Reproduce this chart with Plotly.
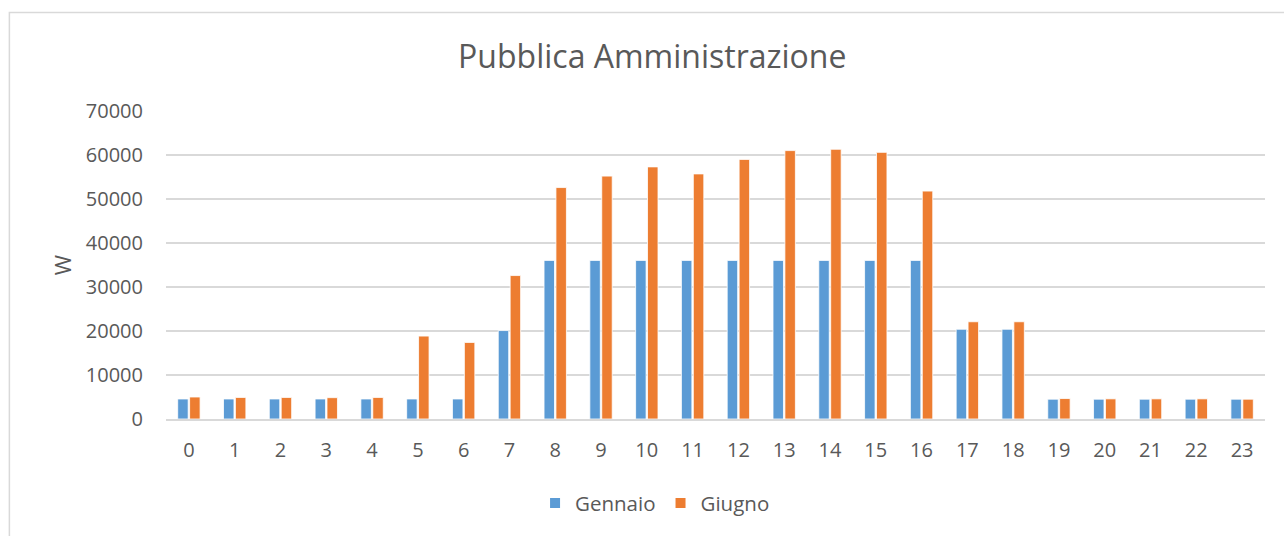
import plotly.graph_objects as go

## Dati
ore = [str(h) for h in range(24)]
gennaio = [4550, 4550, 4550, 4550, 4550, 4550, 4550, 20100, 36050, 36050, 36050, 36050,
           36050, 36050, 36050, 36050, 36050, 20400, 20400, 4500, 4500, 4500, 4500, 4500]
giugno = [5000, 4900, 4900, 4850, 4900, 18850, 17400, 32600, 52600, 55200, 57300, 55700,
          59000, 61000, 61300, 60600, 51800, 22100, 22100, 4650, 4580, 4580, 4580, 4500]

## Grafico
fig = go.Figure()
fig.add_trace(go.Bar(x = ore, y = gennaio, name = "Gennaio",
                     marker = dict(color = "#5B9BD5", line = dict(color = "#ffffff", width = 0.8))))
fig.add_trace(go.Bar(x = ore, y = giugno, name = "Giugno",
                     marker = dict(color = "#ED7D31", line = dict(color = "#ffffff", width = 0.8))))

fig.update_layout(
    width = 1284, height = 536,
    margin = dict(l = 166, r = 19, t = 111, b = 117),
    paper_bgcolor = "white", plot_bgcolor = "white",
    font = dict(family = "Open Sans", size = 20, color = "#595959"),
    title = dict(text = "Pubblica Amministrazione", x = 0.508, xanchor = "center",
                 y = 1 - 57 / 536, yanchor = "middle", yref = "container",
                 font = dict(size = 32, color = "#595959")),
    barmode = "group", bargap = 0.48, bargroupgap = 0.12,
    showlegend = True,
    legend = dict(orientation = "h", x = 0.445, xanchor = "center", y = -0.273, yanchor = "middle",
                  font = dict(size = 20.5), itemsizing = "constant", itemwidth = 30),
    shapes = [dict(type = "rect", xref = "paper", yref = "paper",
                   x0 = -0.1425, x1 = 1.03, y0 = -0.45, y1 = 1.32,
                   line = dict(color = "#d9d9d9", width = 1.5), layer = "below")]
)
fig.update_xaxes(type = "category", showgrid = False, showline = True,
                 linecolor = "#d9d9d9", linewidth = 1.5, ticks = "",
                 ticklabelstandoff = 12, automargin = False)
fig.update_yaxes(range = [0, 70000], dtick = 10000, tickformat = "d", showgrid = True,
                 gridcolor = "#d9d9d9", gridwidth = 1.5, zeroline = False,
                 ticklabelstandoff = 22, automargin = False,
                 title = dict(text = "W", standoff = 8, font = dict(size = 22)))

fig.write_html("out.html", config = {"displayModeBar": False},
               post_script = "document.body.style.margin = '0';")
